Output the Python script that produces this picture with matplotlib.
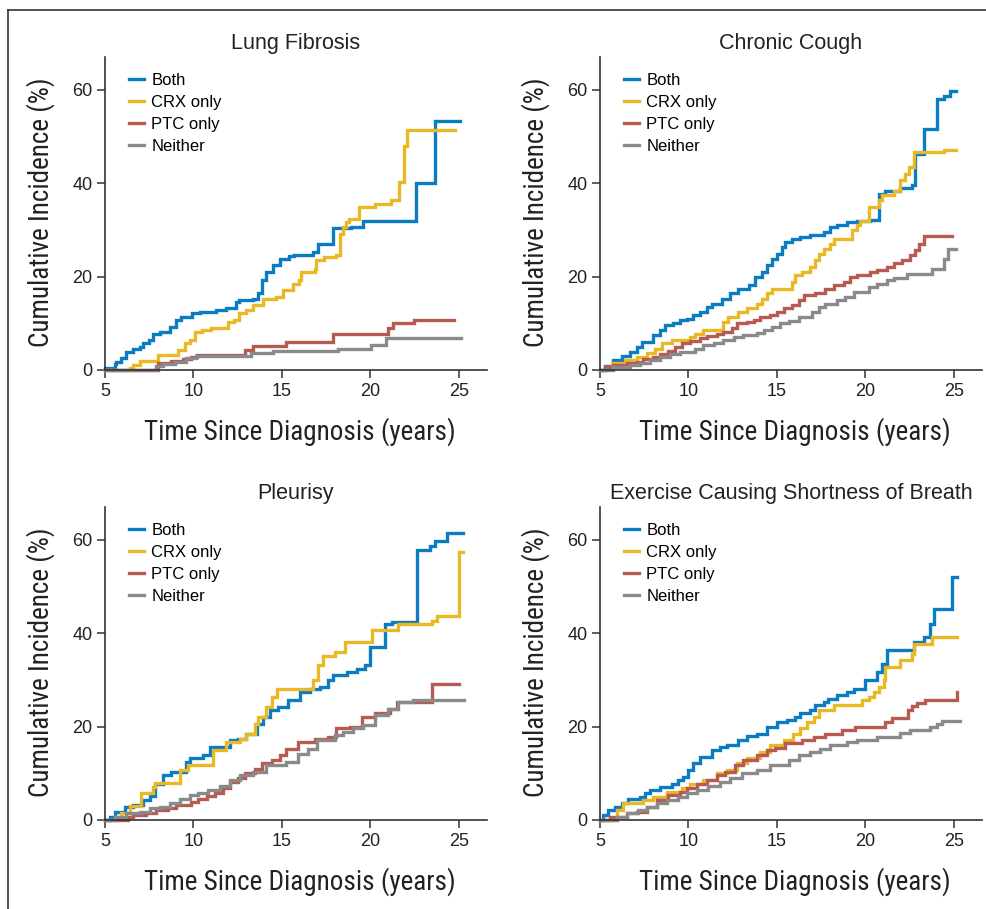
import matplotlib
matplotlib.use("Agg")
import matplotlib.pyplot as plt
from matplotlib.lines import Line2D
from matplotlib import font_manager

# Lung Fibrosis
lf_both_t = [5.0, 5.55, 5.65, 5.9, 6.2, 6.6, 7.0, 7.15, 7.5, 7.7, 8.1, 8.65, 9.0, 9.3, 9.9, 10.35, 11.3, 11.85, 12.4, 12.6, 13.35, 13.65, 13.85, 14.1, 14.5, 14.9, 15.4, 15.7, 16.75, 17.05, 17.9, 18.9, 19.6, 22.6, 23.65, 25.05]
lf_both_y = [0.5, 1.2, 1.8, 2.5, 3.9, 4.4, 5.0, 5.7, 6.4, 7.8, 8.2, 9.3, 10.7, 11.4, 12.1, 12.5, 12.8, 13.2, 14.6, 14.9, 15.3, 16.4, 19.2, 21.0, 22.4, 23.8, 24.3, 24.6, 25.3, 27.0, 30.4, 30.6, 31.9, 40.0, 53.2, 53.2]
lf_crx_t = [5.0, 6.4, 6.6, 7.0, 8.0, 9.1, 9.5, 9.8, 10.07, 10.5, 11.0, 11.95, 12.3, 12.6, 13.0, 13.36, 13.93, 14.68, 15.06, 15.62, 15.95, 16.09, 16.85, 16.94, 17.41, 18.07, 18.26, 18.45, 18.63, 18.82, 19.39, 20.24, 21.18, 21.65, 21.93, 22.06, 24.81]
lf_crx_y = [0.0, 0.5, 1.1, 2.0, 3.2, 4.3, 5.7, 6.4, 8.2, 8.5, 8.9, 10.3, 10.8, 12.1, 12.8, 13.9, 15.3, 15.7, 17.1, 18.5, 19.2, 21.0, 21.7, 23.5, 24.2, 24.6, 29.2, 30.6, 31.7, 32.4, 34.9, 35.6, 36.3, 40.2, 48.0, 51.4, 51.4]
lf_ptc_t = [5.0, 8.0, 8.75, 9.4, 9.85, 10.2, 12.9, 13.36, 15.25, 17.88, 20.99, 21.27, 22.5, 24.75]
lf_ptc_y = [0.0, 1.4, 1.9, 2.4, 2.8, 3.2, 4.3, 5.1, 6.0, 7.8, 8.9, 10.0, 10.8, 10.8]
lf_nei_t = [5.0, 7.9, 8.3, 8.94, 9.6, 10.16, 13.27, 14.49, 18.16, 20.05, 20.9, 25.13]
lf_nei_y = [0.0, 0.85, 1.3, 1.8, 2.5, 3.0, 3.7, 4.1, 4.6, 5.3, 6.8, 6.8]

# Chronic Cough
cc_both_t = [5.0, 5.3, 5.75, 6.23, 6.7, 7.08, 7.36, 8.02, 8.4, 8.68, 9.15, 9.53, 9.9, 10.28, 10.66, 11.04, 11.32, 11.89, 12.36, 12.83, 13.4, 13.77, 14.15, 14.43, 14.72, 15.0, 15.28, 15.47, 15.85, 16.32, 16.89, 17.64, 18.02, 18.4, 18.96, 19.53, 20.28, 20.75, 21.13, 21.98, 22.64, 22.83, 23.3, 24.06, 24.43, 24.81, 25.15]
cc_both_y = [0.0, 0.8, 2.1, 3.0, 3.9, 5.0, 6.0, 7.5, 8.5, 9.6, 10.1, 10.7, 11.0, 11.7, 12.5, 13.5, 14.2, 15.3, 16.4, 17.4, 18.1, 19.9, 21.0, 22.4, 23.8, 24.9, 26.3, 27.4, 28.1, 28.5, 28.8, 29.5, 30.6, 31.0, 31.7, 31.9, 32.2, 37.7, 38.3, 38.9, 39.7, 46.3, 51.6, 58.0, 58.7, 59.8, 59.8]
cc_crx_t = [5.0, 5.3, 5.66, 6.42, 7.08, 7.64, 8.11, 8.49, 9.06, 10.09, 10.38, 10.85, 11.98, 12.26, 12.83, 13.3, 13.87, 14.15, 14.43, 14.72, 15.85, 16.04, 16.42, 16.89, 17.17, 17.36, 17.64, 18.02, 18.21, 19.25, 19.53, 19.72, 20.19, 20.75, 20.94, 21.6, 21.98, 22.26, 22.45, 22.74, 24.43, 25.15]
cc_crx_y = [0.0, 0.7, 1.4, 2.1, 2.8, 3.6, 4.6, 5.7, 6.4, 7.0, 7.8, 8.5, 10.3, 11.4, 12.5, 13.2, 14.2, 15.3, 16.4, 17.4, 18.9, 20.3, 21.0, 22.1, 23.5, 24.9, 26.0, 27.0, 28.1, 29.9, 31.0, 31.9, 34.9, 36.3, 37.4, 38.4, 40.6, 42.0, 43.4, 46.6, 47.1, 47.1]
cc_ptc_t = [5.0, 5.3, 5.75, 6.51, 7.08, 7.45, 8.02, 8.4, 8.87, 9.25, 9.62, 10.09, 10.66, 11.04, 11.6, 11.98, 12.45, 12.74, 13.3, 13.68, 14.06, 14.62, 15.0, 15.38, 15.85, 16.23, 16.51, 17.17, 17.74, 18.21, 18.77, 19.15, 19.53, 20.28, 20.66, 21.23, 21.6, 22.08, 22.55, 22.83, 23.02, 23.3, 24.91]
cc_ptc_y = [0.0, 0.7, 1.1, 1.4, 1.8, 2.3, 2.7, 3.4, 4.1, 5.0, 5.7, 6.3, 6.8, 7.3, 7.8, 8.2, 8.9, 10.0, 10.3, 10.8, 11.4, 11.7, 12.5, 13.2, 13.9, 14.9, 16.0, 16.5, 17.4, 18.1, 18.9, 19.9, 20.3, 21.0, 21.5, 22.1, 22.8, 23.5, 24.6, 25.6, 27.0, 28.6, 28.6]
cc_nei_t = [5.0, 5.75, 6.7, 7.26, 7.83, 8.4, 8.96, 9.53, 10.38, 10.85, 11.42, 11.98, 12.55, 13.11, 13.87, 14.25, 14.72, 15.19, 15.66, 16.23, 16.98, 17.36, 17.74, 18.4, 18.87, 19.34, 20.19, 20.66, 21.23, 21.6, 22.36, 23.77, 24.43, 24.66, 25.15]
cc_nei_y = [0.0, 0.7, 1.1, 1.6, 2.1, 2.7, 3.4, 3.9, 4.6, 5.3, 5.8, 6.4, 7.0, 7.5, 8.0, 8.5, 9.3, 10.0, 10.5, 11.4, 12.5, 13.5, 14.2, 14.9, 15.7, 16.7, 17.8, 18.5, 19.2, 19.8, 20.5, 21.7, 23.8, 26.0, 26.0]

# Pleurisy
pl_both_t = [5.0, 5.26, 5.55, 6.11, 6.58, 7.15, 7.53, 7.81, 8.28, 8.75, 9.6, 9.79, 10.55, 10.92, 12.06, 12.53, 13.0, 13.57, 13.94, 14.32, 14.79, 15.36, 16.02, 16.58, 17.15, 17.62, 17.9, 18.66, 19.23, 19.7, 19.98, 20.83, 21.21, 22.62, 23.38, 23.66, 24.32, 25.26]
pl_both_y = [0.0, 0.7, 1.8, 2.7, 3.2, 4.3, 5.1, 7.8, 9.6, 10.3, 12.5, 13.2, 13.9, 15.7, 17.1, 17.4, 18.5, 20.6, 22.1, 23.5, 24.2, 25.6, 27.4, 28.1, 28.5, 29.9, 31.0, 31.7, 32.4, 33.1, 37.0, 42.0, 42.3, 57.9, 58.7, 59.8, 61.4, 61.4]
pl_crx_t = [5.0, 5.55, 5.92, 6.4, 7.06, 7.72, 7.82, 9.23, 9.7, 11.11, 11.87, 12.62, 13.0, 13.47, 13.66, 14.13, 14.42, 14.7, 16.77, 17.06, 17.34, 18.0, 18.57, 20.08, 21.58, 23.47, 23.75, 25.04, 25.26]
pl_crx_y = [0.0, 0.7, 1.6, 3.0, 5.7, 7.1, 7.9, 10.7, 11.7, 14.9, 16.7, 17.4, 18.5, 20.6, 22.1, 24.2, 26.3, 28.1, 29.9, 33.1, 35.2, 36.0, 38.1, 40.7, 42.0, 42.7, 43.6, 57.3, 57.3]
pl_ptc_t = [5.0, 6.3, 6.58, 7.34, 7.9, 8.57, 9.04, 9.89, 10.26, 10.74, 11.21, 11.68, 12.06, 12.53, 12.91, 13.47, 13.85, 14.42, 14.89, 15.26, 15.92, 16.87, 17.62, 18.09, 18.85, 19.51, 20.26, 21.11, 21.49, 23.47, 25.0]
pl_ptc_y = [0.0, 0.7, 1.1, 1.6, 2.1, 2.5, 3.2, 3.9, 4.6, 5.1, 5.8, 6.8, 8.2, 8.9, 10.0, 11.0, 12.1, 12.8, 13.9, 15.3, 16.7, 17.4, 17.8, 19.6, 19.9, 22.1, 22.8, 23.8, 25.3, 29.2, 29.2]
pl_nei_t = [5.0, 5.55, 6.21, 6.96, 7.53, 8.09, 8.66, 9.23, 9.79, 10.26, 10.83, 11.49, 12.06, 12.62, 13.38, 14.13, 15.26, 15.92, 16.49, 16.96, 18.0, 18.47, 19.04, 19.6, 20.26, 21.02, 21.58, 22.43, 25.3]
pl_nei_y = [0.0, 0.7, 1.4, 1.8, 2.5, 2.8, 3.6, 4.4, 5.3, 5.8, 6.5, 7.3, 8.5, 9.6, 10.3, 11.7, 12.5, 14.2, 15.3, 17.2, 18.1, 18.9, 19.6, 20.3, 22.4, 23.8, 25.3, 25.6, 25.6]

# Exercise Causing Shortness of Breath
ex_both_t = [5.0, 5.19, 5.47, 5.85, 6.23, 6.6, 7.26, 7.55, 7.83, 8.4, 9.06, 9.43, 9.72, 10.0, 10.28, 10.66, 11.32, 11.79, 12.17, 12.83, 13.3, 13.87, 14.43, 15.0, 15.57, 16.04, 16.32, 16.89, 17.17, 17.64, 17.92, 18.4, 18.96, 19.34, 20.0, 20.66, 20.94, 21.23, 22.74, 23.3, 23.68, 23.87, 24.91, 25.19]
ex_both_y = [0.0, 1.1, 2.1, 2.8, 3.6, 4.6, 5.0, 5.7, 6.4, 7.1, 7.8, 8.5, 9.3, 10.7, 12.1, 13.5, 14.9, 15.7, 16.0, 17.1, 17.9, 18.5, 19.9, 21.0, 21.5, 22.1, 22.8, 23.5, 24.6, 25.3, 26.0, 26.7, 27.4, 28.1, 29.9, 31.7, 33.5, 36.3, 38.1, 39.1, 42.0, 45.2, 52.1, 52.1]
ex_crx_t = [5.0, 5.94, 6.32, 7.45, 8.02, 8.77, 9.62, 10.09, 10.85, 11.6, 12.17, 12.74, 13.3, 14.06, 14.62, 15.38, 15.94, 16.32, 16.7, 17.08, 17.36, 18.21, 19.81, 20.19, 20.47, 20.75, 21.04, 21.13, 21.98, 22.64, 22.74, 23.77, 25.19]
ex_crx_y = [0.0, 2.1, 3.6, 4.3, 5.0, 6.0, 6.8, 7.8, 8.5, 10.0, 10.7, 12.1, 13.2, 14.6, 16.0, 17.1, 18.5, 19.6, 21.0, 22.1, 23.5, 24.6, 25.6, 26.3, 27.4, 28.5, 29.9, 32.7, 34.2, 35.6, 37.7, 39.1, 39.1]
ex_ptc_t = [5.0, 5.57, 6.51, 7.08, 7.64, 8.21, 8.87, 9.53, 9.91, 10.47, 11.04, 11.6, 12.08, 12.64, 13.11, 13.87, 14.43, 14.9, 15.45, 16.42, 17.1, 17.7, 18.67, 19.4, 21.1, 21.5, 22.4, 22.65, 22.9, 23.36, 25.17, 25.2]
ex_ptc_y = [0.0, 0.7, 1.4, 1.8, 2.8, 4.3, 5.3, 6.0, 6.8, 7.8, 8.5, 9.6, 10.3, 11.7, 12.8, 13.9, 14.9, 15.4, 16.4, 17.1, 17.8, 18.5, 19.2, 19.9, 21.0, 21.8, 23.5, 24.3, 25.0, 25.6, 27.3, 27.3]
ex_nei_t = [5.0, 5.94, 6.51, 7.17, 7.64, 8.21, 8.77, 9.43, 9.91, 10.47, 11.13, 11.79, 12.36, 13.02, 13.87, 14.62, 15.66, 16.23, 16.89, 17.45, 18.02, 18.96, 19.53, 20.66, 21.98, 22.55, 23.68, 24.06, 24.34, 25.34]
ex_nei_y = [0.0, 0.7, 1.4, 2.1, 2.8, 3.6, 4.3, 5.0, 5.7, 6.4, 7.3, 8.2, 8.9, 10.0, 10.7, 11.7, 12.8, 13.9, 14.6, 15.3, 16.0, 16.7, 17.2, 17.8, 18.6, 19.2, 19.9, 20.5, 21.2, 21.2]

titles = ["Lung Fibrosis", "Chronic Cough", "Pleurisy", "Exercise Causing Shortness of Breath"]
groups = ["Both", "CRX only", "PTC only", "Neither"]
colors = ["#0a7cc1", "#e9b824", "#b65a52", "#8a8a8c"]

panels = [
    [(lf_both_t, lf_both_y), (lf_crx_t, lf_crx_y), (lf_ptc_t, lf_ptc_y), (lf_nei_t, lf_nei_y)],
    [(cc_both_t, cc_both_y), (cc_crx_t, cc_crx_y), (cc_ptc_t, cc_ptc_y), (cc_nei_t, cc_nei_y)],
    [(pl_both_t, pl_both_y), (pl_crx_t, pl_crx_y), (pl_ptc_t, pl_ptc_y), (pl_nei_t, pl_nei_y)],
    [(ex_both_t, ex_both_y), (ex_crx_t, ex_crx_y), (ex_ptc_t, ex_ptc_y), (ex_nei_t, ex_nei_y)],
]

# condensed face for the axis labels
names = set(f.name for f in font_manager.fontManager.ttflist)
if "Roboto Condensed" in names:
    label_font = dict(family="Roboto Condensed")
else:
    label_font = dict(family="DejaVu Sans", fontstretch="condensed")
plt.rcParams['font.family'] = ['Liberation Sans', 'DejaVu Sans']

W, H = 987, 909
fig = plt.figure(figsize=(W / 100, H / 100), dpi=100)

# axes boxes in pixels: left, top, right, bottom
boxes = [(105, 57, 487, 370), (600, 57, 982, 370), (105, 507, 487, 820), (600, 507, 982, 820)]

for k, (l, t, r, b) in enumerate(boxes):
    ax = fig.add_axes([l / W, 1 - b / H, (r - l) / W, (b - t) / H])
    for (xs, ys), c, g in zip(panels[k], colors, groups):
        n = min(len(xs), len(ys))
        ax.step(xs[:n], ys[:n], where='post', color=c, lw=2.4, label=g,
                solid_joinstyle='miter', clip_on=False)
    ax.set_xlim(5, 26.6)
    ax.set_ylim(0, 67)
    ax.set_xticks([5, 10, 15, 20, 25])
    ax.set_yticks([0, 20, 40, 60])
    for s in ['top', 'right']:
        ax.spines[s].set_visible(False)
    for s in ['left', 'bottom']:
        ax.spines[s].set_color('#333333')
        ax.spines[s].set_linewidth(1.2)
    ax.tick_params(direction='out', length=6, width=1.1, color='#333333',
                   labelsize=13, labelcolor='#222222', pad=3)
    ax.set_title(titles[k], fontsize=15.5, color='#222222', pad=6)
    ax.set_xlabel("Time Since Diagnosis (years)", fontsize=19.5, color='#222222', **label_font)
    ax.set_ylabel("Cumulative Incidence (%)", fontsize=19.5, color='#222222', **label_font)
    ax.xaxis.set_label_coords(0.51, -0.15)
    ax.yaxis.set_label_coords(-0.13, 0.505)
    ax.legend(loc='upper left', bbox_to_anchor=(0.045, 0.97), frameon=False,
              fontsize=12, handlelength=0.9, handletextpad=0.45,
              labelspacing=0.42, borderaxespad=0)

# partial frame around the figure
fig.add_artist(Line2D([8 / W, 1], [1 - 10 / H, 1 - 10 / H], color='#333333', lw=1.2))
fig.add_artist(Line2D([8 / W, 8 / W], [0, 1 - 10 / H], color='#333333', lw=1.2))

fig.savefig("out.png", dpi=100)
